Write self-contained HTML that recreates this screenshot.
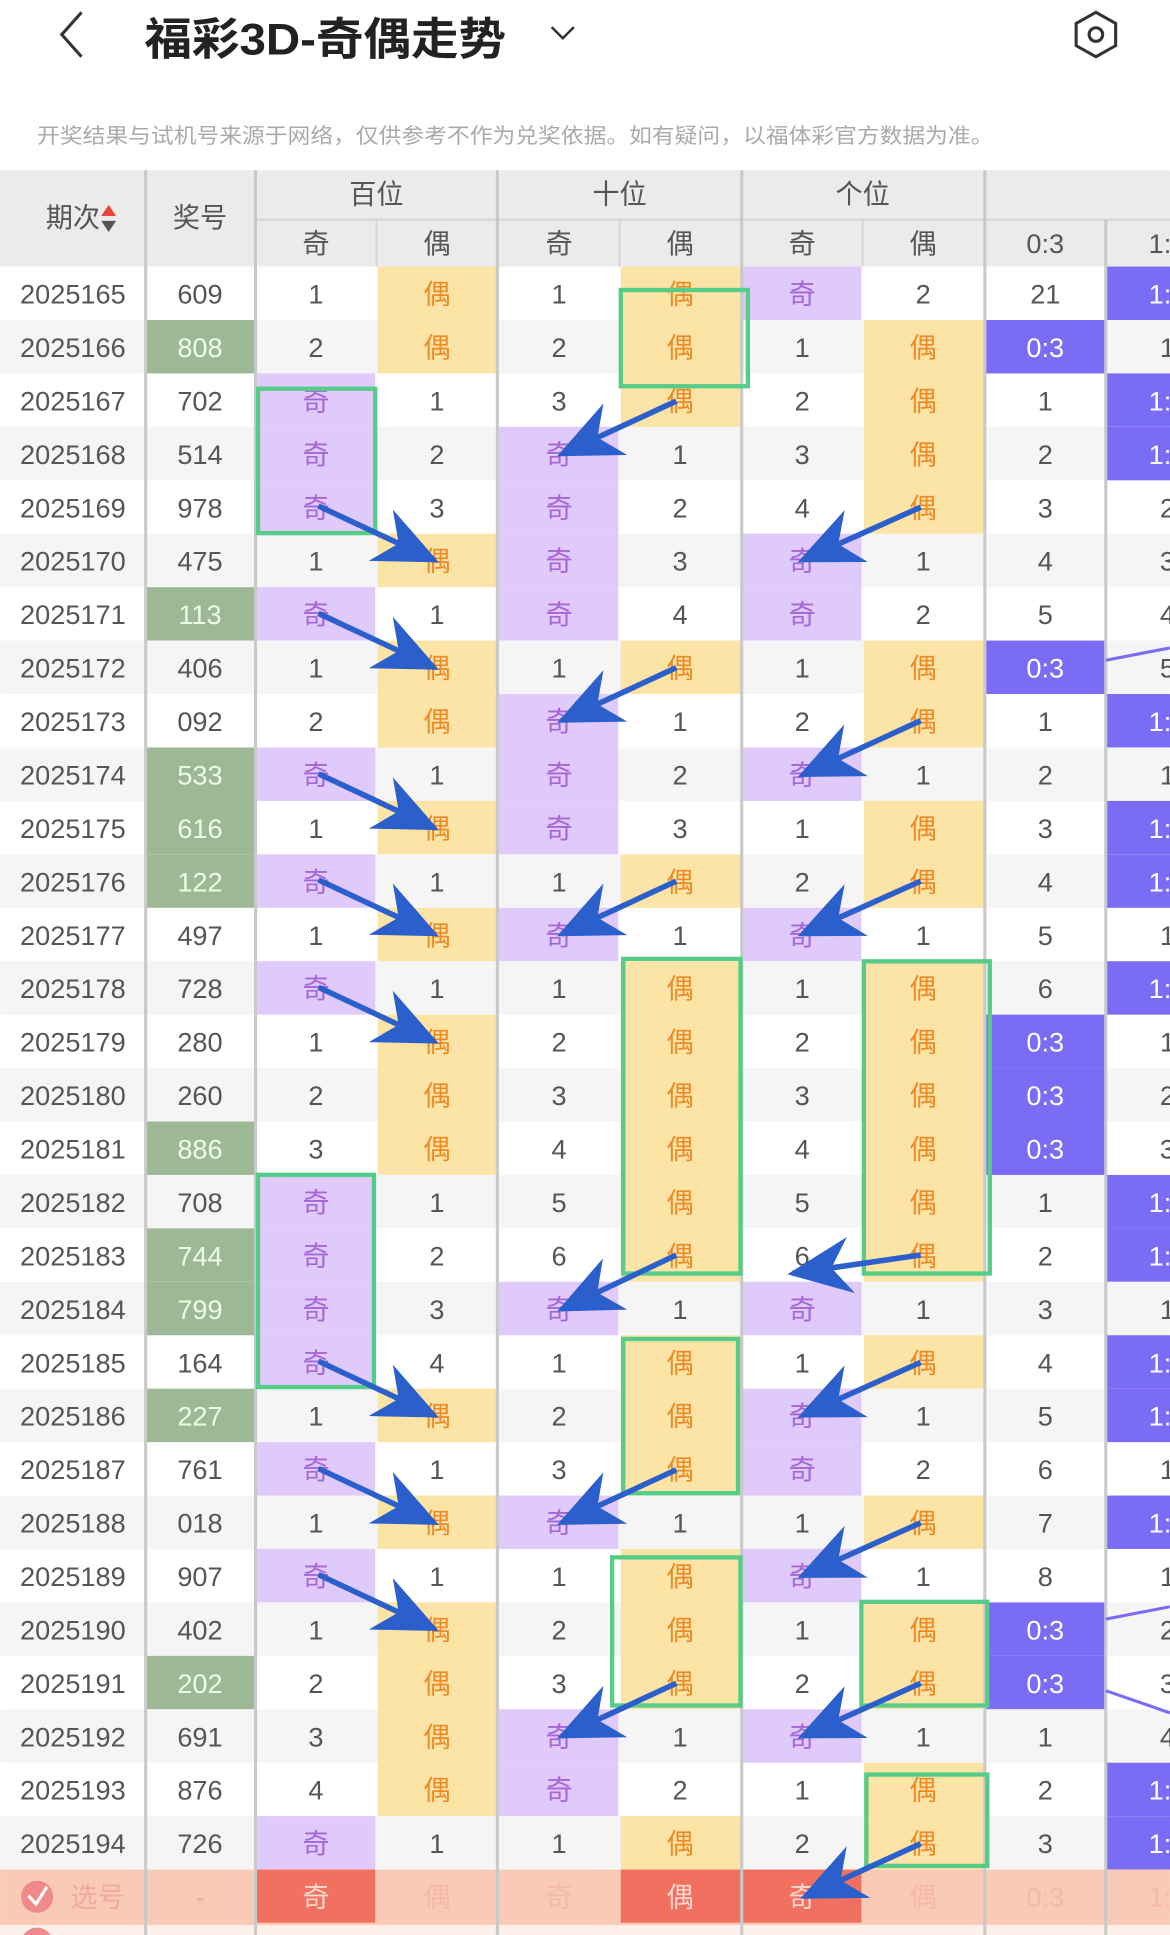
<!DOCTYPE html>
<html><head><meta charset="utf-8"><style>
html,body{margin:0;padding:0;background:#fff;}
svg{display:block;}
text{font-family:"Liberation Sans","Noto Sans CJK SC",sans-serif;}
.p{fill:#e0c9fb}.y{fill:#fce3a6}.g{fill:#9db894}.v{fill:#7a6cf5}.bg{fill:#f5f5f5}
.q{fill:#a667d6}.o{fill:#ee8a26}.w{fill:#fff}.gw{fill:#eefbe8}
</style></head><body>
<svg width="1170" height="1935" viewBox="0 0 948 1568" xmlns="http://www.w3.org/2000/svg">
<defs>
<marker id="ah" markerUnits="userSpaceOnUse" markerWidth="70" markerHeight="70" refX="0" refY="0" viewBox="-55 -35 70 70" orient="auto">
<path d="M4,0 L-48,-23 L-32,0 L-48,23 Z" fill="#2b5fcc"/>
</marker>
</defs>
<!-- top bar -->
<path d="M66,10 L50,28 L66,46" fill="none" stroke="#333" stroke-width="2.5"/>
<text x="117" y="44" font-size="36" font-weight="bold" fill="#222" textLength="293" lengthAdjust="spacingAndGlyphs">福彩3D-奇偶走势</text>
<path d="M447,22 L456,31 L465,22" fill="none" stroke="#333" stroke-width="2"/>
<path d="M888,10 L904,19 L904,37 L888,46 L872,37 L872,19 Z" fill="none" stroke="#333" stroke-width="2.5"/>
<circle cx="888" cy="28" r="5.5" fill="none" stroke="#333" stroke-width="2.5"/>
<text x="30" y="116" font-size="17" fill="#aaa" textLength="775" lengthAdjust="spacingAndGlyphs">开奖结果与试机号来源于网络，仅供参考不作为兑奖依据。如有疑问，以福体彩官方数据为准。</text>
<!-- header -->
<rect x="0" y="138" width="948" height="78" fill="#ebebeb"/>
<g fill="#555" font-size="22" text-anchor="middle">
<text x="59" y="184">期次</text>
<path d="M88,166 L94,175 L82,175 Z" fill="#e8443a"/><path d="M88,188 L94,179 L82,179 Z" fill="#555"/>
<text x="162" y="184">奖号</text>
<text x="305" y="165">百位</text><text x="502" y="165">十位</text><text x="699" y="165">个位</text>
<text x="256" y="205">奇</text><text x="354" y="205">偶</text><text x="453" y="205">奇</text><text x="551" y="205">偶</text><text x="650" y="205">奇</text><text x="748" y="205">偶</text><text x="847" y="205">0:3</text><text x="946" y="205">1:3</text>
</g>
<g stroke="#d4d4d4" stroke-width="1.5"><line x1="207" y1="178" x2="948" y2="178"/><line x1="305" y1="178" x2="305" y2="216"/><line x1="502" y1="178" x2="502" y2="216"/><line x1="699" y1="178" x2="699" y2="216"/><line x1="896" y1="178" x2="896" y2="216"/></g>

<g font-size="22" text-anchor="middle" fill="#555">
<g transform="translate(0,216)"><text x="59" y="30">2025165</text><text x="162" y="30">609</text><text x="256" y="30">1</text><rect class="y" x="306" width="96" height="43.3"/><text class="o" x="354" y="30">偶</text><text x="453" y="30">1</text><rect class="y" x="503" width="97" height="43.3"/><text class="o" x="551" y="30">偶</text><rect class="p" x="602" width="96" height="43.3"/><text class="q" x="650" y="30">奇</text><text x="748" y="30">2</text><text x="847" y="30">21</text><rect class="v" x="897" width="60" height="43.3"/><text class="w" x="946" y="30">1:2</text></g>
<g transform="translate(0,259.3)"><rect class="bg" width="948" height="43.3"/><text x="59" y="30">2025166</text><rect class="g" x="119" width="87" height="43.3"/><text class="gw" x="162" y="30">808</text><text x="256" y="30">2</text><rect class="y" x="306" width="96" height="43.3"/><text class="o" x="354" y="30">偶</text><text x="453" y="30">2</text><rect class="y" x="503" width="97" height="43.3"/><text class="o" x="551" y="30">偶</text><text x="650" y="30">1</text><rect class="y" x="700" width="97" height="43.3"/><text class="o" x="748" y="30">偶</text><rect class="v" x="799" width="96" height="43.3"/><text class="w" x="847" y="30">0:3</text><text x="946" y="30">1</text></g>
<g transform="translate(0,302.6)"><text x="59" y="30">2025167</text><text x="162" y="30">702</text><rect class="p" x="208" width="96" height="43.3"/><text class="q" x="256" y="30">奇</text><text x="354" y="30">1</text><text x="453" y="30">3</text><rect class="y" x="503" width="97" height="43.3"/><text class="o" x="551" y="30">偶</text><text x="650" y="30">2</text><rect class="y" x="700" width="97" height="43.3"/><text class="o" x="748" y="30">偶</text><text x="847" y="30">1</text><rect class="v" x="897" width="60" height="43.3"/><text class="w" x="946" y="30">1:2</text></g>
<g transform="translate(0,345.9)"><rect class="bg" width="948" height="43.3"/><text x="59" y="30">2025168</text><text x="162" y="30">514</text><rect class="p" x="208" width="96" height="43.3"/><text class="q" x="256" y="30">奇</text><text x="354" y="30">2</text><rect class="p" x="404" width="97" height="43.3"/><text class="q" x="453" y="30">奇</text><text x="551" y="30">1</text><text x="650" y="30">3</text><rect class="y" x="700" width="97" height="43.3"/><text class="o" x="748" y="30">偶</text><text x="847" y="30">2</text><rect class="v" x="897" width="60" height="43.3"/><text class="w" x="946" y="30">1:2</text></g>
<g transform="translate(0,389.2)"><text x="59" y="30">2025169</text><text x="162" y="30">978</text><rect class="p" x="208" width="96" height="43.3"/><text class="q" x="256" y="30">奇</text><text x="354" y="30">3</text><rect class="p" x="404" width="97" height="43.3"/><text class="q" x="453" y="30">奇</text><text x="551" y="30">2</text><text x="650" y="30">4</text><rect class="y" x="700" width="97" height="43.3"/><text class="o" x="748" y="30">偶</text><text x="847" y="30">3</text><text x="946" y="30">2</text></g>
<g transform="translate(0,432.5)"><rect class="bg" width="948" height="43.3"/><text x="59" y="30">2025170</text><text x="162" y="30">475</text><text x="256" y="30">1</text><rect class="y" x="306" width="96" height="43.3"/><text class="o" x="354" y="30">偶</text><rect class="p" x="404" width="97" height="43.3"/><text class="q" x="453" y="30">奇</text><text x="551" y="30">3</text><rect class="p" x="602" width="96" height="43.3"/><text class="q" x="650" y="30">奇</text><text x="748" y="30">1</text><text x="847" y="30">4</text><text x="946" y="30">3</text></g>
<g transform="translate(0,475.8)"><text x="59" y="30">2025171</text><rect class="g" x="119" width="87" height="43.3"/><text class="gw" x="162" y="30">113</text><rect class="p" x="208" width="96" height="43.3"/><text class="q" x="256" y="30">奇</text><text x="354" y="30">1</text><rect class="p" x="404" width="97" height="43.3"/><text class="q" x="453" y="30">奇</text><text x="551" y="30">4</text><rect class="p" x="602" width="96" height="43.3"/><text class="q" x="650" y="30">奇</text><text x="748" y="30">2</text><text x="847" y="30">5</text><text x="946" y="30">4</text></g>
<g transform="translate(0,519.1)"><rect class="bg" width="948" height="43.3"/><text x="59" y="30">2025172</text><text x="162" y="30">406</text><text x="256" y="30">1</text><rect class="y" x="306" width="96" height="43.3"/><text class="o" x="354" y="30">偶</text><text x="453" y="30">1</text><rect class="y" x="503" width="97" height="43.3"/><text class="o" x="551" y="30">偶</text><text x="650" y="30">1</text><rect class="y" x="700" width="97" height="43.3"/><text class="o" x="748" y="30">偶</text><rect class="v" x="799" width="96" height="43.3"/><text class="w" x="847" y="30">0:3</text><text x="946" y="30">5</text></g>
<g transform="translate(0,562.4)"><text x="59" y="30">2025173</text><text x="162" y="30">092</text><text x="256" y="30">2</text><rect class="y" x="306" width="96" height="43.3"/><text class="o" x="354" y="30">偶</text><rect class="p" x="404" width="97" height="43.3"/><text class="q" x="453" y="30">奇</text><text x="551" y="30">1</text><text x="650" y="30">2</text><rect class="y" x="700" width="97" height="43.3"/><text class="o" x="748" y="30">偶</text><text x="847" y="30">1</text><rect class="v" x="897" width="60" height="43.3"/><text class="w" x="946" y="30">1:2</text></g>
<g transform="translate(0,605.7)"><rect class="bg" width="948" height="43.3"/><text x="59" y="30">2025174</text><rect class="g" x="119" width="87" height="43.3"/><text class="gw" x="162" y="30">533</text><rect class="p" x="208" width="96" height="43.3"/><text class="q" x="256" y="30">奇</text><text x="354" y="30">1</text><rect class="p" x="404" width="97" height="43.3"/><text class="q" x="453" y="30">奇</text><text x="551" y="30">2</text><rect class="p" x="602" width="96" height="43.3"/><text class="q" x="650" y="30">奇</text><text x="748" y="30">1</text><text x="847" y="30">2</text><text x="946" y="30">1</text></g>
<g transform="translate(0,649)"><text x="59" y="30">2025175</text><rect class="g" x="119" width="87" height="43.3"/><text class="gw" x="162" y="30">616</text><text x="256" y="30">1</text><rect class="y" x="306" width="96" height="43.3"/><text class="o" x="354" y="30">偶</text><rect class="p" x="404" width="97" height="43.3"/><text class="q" x="453" y="30">奇</text><text x="551" y="30">3</text><text x="650" y="30">1</text><rect class="y" x="700" width="97" height="43.3"/><text class="o" x="748" y="30">偶</text><text x="847" y="30">3</text><rect class="v" x="897" width="60" height="43.3"/><text class="w" x="946" y="30">1:2</text></g>
<g transform="translate(0,692.3)"><rect class="bg" width="948" height="43.3"/><text x="59" y="30">2025176</text><rect class="g" x="119" width="87" height="43.3"/><text class="gw" x="162" y="30">122</text><rect class="p" x="208" width="96" height="43.3"/><text class="q" x="256" y="30">奇</text><text x="354" y="30">1</text><text x="453" y="30">1</text><rect class="y" x="503" width="97" height="43.3"/><text class="o" x="551" y="30">偶</text><text x="650" y="30">2</text><rect class="y" x="700" width="97" height="43.3"/><text class="o" x="748" y="30">偶</text><text x="847" y="30">4</text><rect class="v" x="897" width="60" height="43.3"/><text class="w" x="946" y="30">1:2</text></g>
<g transform="translate(0,735.6)"><text x="59" y="30">2025177</text><text x="162" y="30">497</text><text x="256" y="30">1</text><rect class="y" x="306" width="96" height="43.3"/><text class="o" x="354" y="30">偶</text><rect class="p" x="404" width="97" height="43.3"/><text class="q" x="453" y="30">奇</text><text x="551" y="30">1</text><rect class="p" x="602" width="96" height="43.3"/><text class="q" x="650" y="30">奇</text><text x="748" y="30">1</text><text x="847" y="30">5</text><text x="946" y="30">1</text></g>
<g transform="translate(0,778.9)"><rect class="bg" width="948" height="43.3"/><text x="59" y="30">2025178</text><text x="162" y="30">728</text><rect class="p" x="208" width="96" height="43.3"/><text class="q" x="256" y="30">奇</text><text x="354" y="30">1</text><text x="453" y="30">1</text><rect class="y" x="503" width="97" height="43.3"/><text class="o" x="551" y="30">偶</text><text x="650" y="30">1</text><rect class="y" x="700" width="97" height="43.3"/><text class="o" x="748" y="30">偶</text><text x="847" y="30">6</text><rect class="v" x="897" width="60" height="43.3"/><text class="w" x="946" y="30">1:2</text></g>
<g transform="translate(0,822.2)"><text x="59" y="30">2025179</text><text x="162" y="30">280</text><text x="256" y="30">1</text><rect class="y" x="306" width="96" height="43.3"/><text class="o" x="354" y="30">偶</text><text x="453" y="30">2</text><rect class="y" x="503" width="97" height="43.3"/><text class="o" x="551" y="30">偶</text><text x="650" y="30">2</text><rect class="y" x="700" width="97" height="43.3"/><text class="o" x="748" y="30">偶</text><rect class="v" x="799" width="96" height="43.3"/><text class="w" x="847" y="30">0:3</text><text x="946" y="30">1</text></g>
<g transform="translate(0,865.5)"><rect class="bg" width="948" height="43.3"/><text x="59" y="30">2025180</text><text x="162" y="30">260</text><text x="256" y="30">2</text><rect class="y" x="306" width="96" height="43.3"/><text class="o" x="354" y="30">偶</text><text x="453" y="30">3</text><rect class="y" x="503" width="97" height="43.3"/><text class="o" x="551" y="30">偶</text><text x="650" y="30">3</text><rect class="y" x="700" width="97" height="43.3"/><text class="o" x="748" y="30">偶</text><rect class="v" x="799" width="96" height="43.3"/><text class="w" x="847" y="30">0:3</text><text x="946" y="30">2</text></g>
<g transform="translate(0,908.8)"><text x="59" y="30">2025181</text><rect class="g" x="119" width="87" height="43.3"/><text class="gw" x="162" y="30">886</text><text x="256" y="30">3</text><rect class="y" x="306" width="96" height="43.3"/><text class="o" x="354" y="30">偶</text><text x="453" y="30">4</text><rect class="y" x="503" width="97" height="43.3"/><text class="o" x="551" y="30">偶</text><text x="650" y="30">4</text><rect class="y" x="700" width="97" height="43.3"/><text class="o" x="748" y="30">偶</text><rect class="v" x="799" width="96" height="43.3"/><text class="w" x="847" y="30">0:3</text><text x="946" y="30">3</text></g>
<g transform="translate(0,952.1)"><rect class="bg" width="948" height="43.3"/><text x="59" y="30">2025182</text><text x="162" y="30">708</text><rect class="p" x="208" width="96" height="43.3"/><text class="q" x="256" y="30">奇</text><text x="354" y="30">1</text><text x="453" y="30">5</text><rect class="y" x="503" width="97" height="43.3"/><text class="o" x="551" y="30">偶</text><text x="650" y="30">5</text><rect class="y" x="700" width="97" height="43.3"/><text class="o" x="748" y="30">偶</text><text x="847" y="30">1</text><rect class="v" x="897" width="60" height="43.3"/><text class="w" x="946" y="30">1:2</text></g>
<g transform="translate(0,995.4)"><text x="59" y="30">2025183</text><rect class="g" x="119" width="87" height="43.3"/><text class="gw" x="162" y="30">744</text><rect class="p" x="208" width="96" height="43.3"/><text class="q" x="256" y="30">奇</text><text x="354" y="30">2</text><text x="453" y="30">6</text><rect class="y" x="503" width="97" height="43.3"/><text class="o" x="551" y="30">偶</text><text x="650" y="30">6</text><rect class="y" x="700" width="97" height="43.3"/><text class="o" x="748" y="30">偶</text><text x="847" y="30">2</text><rect class="v" x="897" width="60" height="43.3"/><text class="w" x="946" y="30">1:2</text></g>
<g transform="translate(0,1038.7)"><rect class="bg" width="948" height="43.3"/><text x="59" y="30">2025184</text><rect class="g" x="119" width="87" height="43.3"/><text class="gw" x="162" y="30">799</text><rect class="p" x="208" width="96" height="43.3"/><text class="q" x="256" y="30">奇</text><text x="354" y="30">3</text><rect class="p" x="404" width="97" height="43.3"/><text class="q" x="453" y="30">奇</text><text x="551" y="30">1</text><rect class="p" x="602" width="96" height="43.3"/><text class="q" x="650" y="30">奇</text><text x="748" y="30">1</text><text x="847" y="30">3</text><text x="946" y="30">1</text></g>
<g transform="translate(0,1082)"><text x="59" y="30">2025185</text><text x="162" y="30">164</text><rect class="p" x="208" width="96" height="43.3"/><text class="q" x="256" y="30">奇</text><text x="354" y="30">4</text><text x="453" y="30">1</text><rect class="y" x="503" width="97" height="43.3"/><text class="o" x="551" y="30">偶</text><text x="650" y="30">1</text><rect class="y" x="700" width="97" height="43.3"/><text class="o" x="748" y="30">偶</text><text x="847" y="30">4</text><rect class="v" x="897" width="60" height="43.3"/><text class="w" x="946" y="30">1:2</text></g>
<g transform="translate(0,1125.3)"><rect class="bg" width="948" height="43.3"/><text x="59" y="30">2025186</text><rect class="g" x="119" width="87" height="43.3"/><text class="gw" x="162" y="30">227</text><text x="256" y="30">1</text><rect class="y" x="306" width="96" height="43.3"/><text class="o" x="354" y="30">偶</text><text x="453" y="30">2</text><rect class="y" x="503" width="97" height="43.3"/><text class="o" x="551" y="30">偶</text><rect class="p" x="602" width="96" height="43.3"/><text class="q" x="650" y="30">奇</text><text x="748" y="30">1</text><text x="847" y="30">5</text><rect class="v" x="897" width="60" height="43.3"/><text class="w" x="946" y="30">1:2</text></g>
<g transform="translate(0,1168.6)"><text x="59" y="30">2025187</text><text x="162" y="30">761</text><rect class="p" x="208" width="96" height="43.3"/><text class="q" x="256" y="30">奇</text><text x="354" y="30">1</text><text x="453" y="30">3</text><rect class="y" x="503" width="97" height="43.3"/><text class="o" x="551" y="30">偶</text><rect class="p" x="602" width="96" height="43.3"/><text class="q" x="650" y="30">奇</text><text x="748" y="30">2</text><text x="847" y="30">6</text><text x="946" y="30">1</text></g>
<g transform="translate(0,1211.9)"><rect class="bg" width="948" height="43.3"/><text x="59" y="30">2025188</text><text x="162" y="30">018</text><text x="256" y="30">1</text><rect class="y" x="306" width="96" height="43.3"/><text class="o" x="354" y="30">偶</text><rect class="p" x="404" width="97" height="43.3"/><text class="q" x="453" y="30">奇</text><text x="551" y="30">1</text><text x="650" y="30">1</text><rect class="y" x="700" width="97" height="43.3"/><text class="o" x="748" y="30">偶</text><text x="847" y="30">7</text><rect class="v" x="897" width="60" height="43.3"/><text class="w" x="946" y="30">1:2</text></g>
<g transform="translate(0,1255.2)"><text x="59" y="30">2025189</text><text x="162" y="30">907</text><rect class="p" x="208" width="96" height="43.3"/><text class="q" x="256" y="30">奇</text><text x="354" y="30">1</text><text x="453" y="30">1</text><rect class="y" x="503" width="97" height="43.3"/><text class="o" x="551" y="30">偶</text><rect class="p" x="602" width="96" height="43.3"/><text class="q" x="650" y="30">奇</text><text x="748" y="30">1</text><text x="847" y="30">8</text><text x="946" y="30">1</text></g>
<g transform="translate(0,1298.5)"><rect class="bg" width="948" height="43.3"/><text x="59" y="30">2025190</text><text x="162" y="30">402</text><text x="256" y="30">1</text><rect class="y" x="306" width="96" height="43.3"/><text class="o" x="354" y="30">偶</text><text x="453" y="30">2</text><rect class="y" x="503" width="97" height="43.3"/><text class="o" x="551" y="30">偶</text><text x="650" y="30">1</text><rect class="y" x="700" width="97" height="43.3"/><text class="o" x="748" y="30">偶</text><rect class="v" x="799" width="96" height="43.3"/><text class="w" x="847" y="30">0:3</text><text x="946" y="30">2</text></g>
<g transform="translate(0,1341.8)"><text x="59" y="30">2025191</text><rect class="g" x="119" width="87" height="43.3"/><text class="gw" x="162" y="30">202</text><text x="256" y="30">2</text><rect class="y" x="306" width="96" height="43.3"/><text class="o" x="354" y="30">偶</text><text x="453" y="30">3</text><rect class="y" x="503" width="97" height="43.3"/><text class="o" x="551" y="30">偶</text><text x="650" y="30">2</text><rect class="y" x="700" width="97" height="43.3"/><text class="o" x="748" y="30">偶</text><rect class="v" x="799" width="96" height="43.3"/><text class="w" x="847" y="30">0:3</text><text x="946" y="30">3</text></g>
<g transform="translate(0,1385.1)"><rect class="bg" width="948" height="43.3"/><text x="59" y="30">2025192</text><text x="162" y="30">691</text><text x="256" y="30">3</text><rect class="y" x="306" width="96" height="43.3"/><text class="o" x="354" y="30">偶</text><rect class="p" x="404" width="97" height="43.3"/><text class="q" x="453" y="30">奇</text><text x="551" y="30">1</text><rect class="p" x="602" width="96" height="43.3"/><text class="q" x="650" y="30">奇</text><text x="748" y="30">1</text><text x="847" y="30">1</text><text x="946" y="30">4</text></g>
<g transform="translate(0,1428.4)"><text x="59" y="30">2025193</text><text x="162" y="30">876</text><text x="256" y="30">4</text><rect class="y" x="306" width="96" height="43.3"/><text class="o" x="354" y="30">偶</text><rect class="p" x="404" width="97" height="43.3"/><text class="q" x="453" y="30">奇</text><text x="551" y="30">2</text><text x="650" y="30">1</text><rect class="y" x="700" width="97" height="43.3"/><text class="o" x="748" y="30">偶</text><text x="847" y="30">2</text><rect class="v" x="897" width="60" height="43.3"/><text class="w" x="946" y="30">1:2</text></g>
<g transform="translate(0,1471.7)"><rect class="bg" width="948" height="43.3"/><text x="59" y="30">2025194</text><text x="162" y="30">726</text><rect class="p" x="208" width="96" height="43.3"/><text class="q" x="256" y="30">奇</text><text x="354" y="30">1</text><text x="453" y="30">1</text><rect class="y" x="503" width="97" height="43.3"/><text class="o" x="551" y="30">偶</text><text x="650" y="30">2</text><rect class="y" x="700" width="97" height="43.3"/><text class="o" x="748" y="30">偶</text><text x="847" y="30">3</text><rect class="v" x="897" width="60" height="43.3"/><text class="w" x="946" y="30">1:2</text></g>
<g transform="translate(0,1515)">
<rect width="948" height="45" fill="#f9cbb7"/>
<rect x="208" width="96" height="43" fill="#f2705f"/><rect x="503" width="97" height="43" fill="#f2705f"/><rect x="602" width="96" height="43" fill="#f2705f"/>
<circle cx="30" cy="22" r="13" fill="#f08a8a"/><path d="M23,21 L29,28 L38,14" fill="none" stroke="#fff" stroke-width="2.5"/>
<text x="79" y="30" fill="#f0a8a0">选号</text><text x="162" y="30" fill="#e8aa9a">-</text>
<text x="256" y="30" fill="#fbd9d0">奇</text><text x="354" y="30" fill="#f5b8a4">偶</text><text x="453" y="30" fill="#f5b8a4">奇</text><text x="551" y="30" fill="#fbd9d0">偶</text><text x="650" y="30" fill="#fbd9d0">奇</text><text x="748" y="30" fill="#f5b8a4">偶</text><text x="847" y="30" fill="#f5b8a4">0:3</text><text x="946" y="30" fill="#f5b8a4">1:3</text>
</g>
<rect x="0" y="1560" width="948" height="8" fill="#fdf0ea"/>
<circle cx="30" cy="1575" r="13" fill="#f08a8a"/>
</g>
<g stroke="#c9c9c9" stroke-width="2.5">
<line x1="118" y1="138" x2="118" y2="1568"/><line x1="207" y1="138" x2="207" y2="1568"/><line x1="403" y1="138" x2="403" y2="1568"/><line x1="601" y1="138" x2="601" y2="1568"/><line x1="798" y1="138" x2="798" y2="1568"/><line x1="896" y1="178" x2="896" y2="1568"/>
</g>
<g stroke="#7a6cf5" stroke-width="2.5" fill="none">
<line x1="896" y1="535" x2="948" y2="525"/><line x1="896" y1="1312" x2="948" y2="1302"/><line x1="896" y1="1370" x2="948" y2="1388"/>
</g>
<g fill="none" stroke="#55cc88" stroke-width="3.5">
<rect x="503" y="235" width="103" height="78"/>
<rect x="209" y="315" width="95" height="117"/>
<rect x="505" y="777" width="95" height="255"/>
<rect x="700" y="779" width="102" height="253"/>
<rect x="209" y="952" width="94" height="172"/>
<rect x="505" y="1085" width="93" height="125"/>
<rect x="496" y="1262" width="104" height="120"/>
<rect x="698" y="1298" width="102" height="84"/>
<rect x="702" y="1438" width="98" height="74"/>
</g>
<g stroke="#2b5fcc" stroke-width="4.5" marker-end="url(#ah)" fill="none">
<line x1="258" y1="410" x2="352" y2="454"/>
<line x1="258" y1="497" x2="352" y2="541"/>
<line x1="258" y1="627" x2="352" y2="671"/>
<line x1="258" y1="713" x2="352" y2="757"/>
<line x1="258" y1="800" x2="352" y2="844"/>
<line x1="258" y1="1103" x2="352" y2="1147"/>
<line x1="258" y1="1190" x2="352" y2="1234"/>
<line x1="258" y1="1276" x2="352" y2="1320"/>
<line x1="548" y1="325" x2="455" y2="368"/>
<line x1="548" y1="541" x2="455" y2="584"/>
<line x1="548" y1="714" x2="455" y2="757"/>
<line x1="548" y1="1017" x2="455" y2="1061"/>
<line x1="548" y1="1191" x2="455" y2="1234"/>
<line x1="548" y1="1364" x2="455" y2="1407"/>
<line x1="746" y1="411" x2="650" y2="454"/>
<line x1="746" y1="584" x2="650" y2="628"/>
<line x1="746" y1="714" x2="650" y2="757"/>
<line x1="746" y1="1017" x2="642" y2="1032"/>
<line x1="746" y1="1104" x2="650" y2="1147"/>
<line x1="746" y1="1234" x2="650" y2="1277"/>
<line x1="746" y1="1364" x2="650" y2="1407"/>
<line x1="746" y1="1494" x2="652" y2="1537"/>
</g>
</svg>
</body></html>
